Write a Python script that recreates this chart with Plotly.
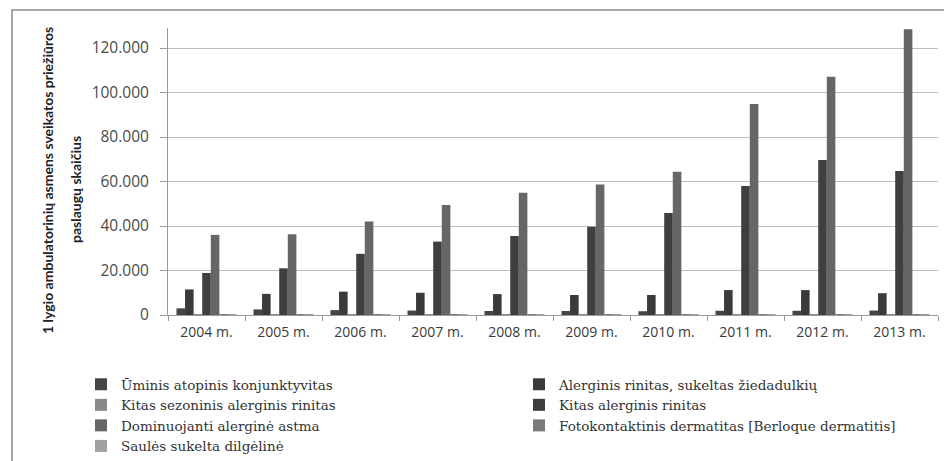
import plotly.graph_objects as go

years = ["2004 m.", "2005 m.", "2006 m.", "2007 m.", "2008 m.",
         "2009 m.", "2010 m.", "2011 m.", "2012 m.", "2013 m."]

series_names = [
    "Ūminis atopinis konjunktyvitas",
    "Alerginis rinitas, sukeltas žiedadulkių",
    "Kitas sezoninis alerginis rinitas",
    "Kitas alerginis rinitas",
    "Dominuojanti alerginė astma",
    "Fotokontaktinis dermatitas [Berloque dermatitis]",
    "Saulės sukelta dilgėlinė",
]

uminis = [3000, 2500, 2200, 2000, 1800, 1800, 1700, 1900, 1900, 2000]
alerg_ziedadulkiu = [11500, 9500, 10500, 10000, 9400, 9000, 9000, 11200, 11200, 9800]
kitas_sezoninis = [400, 400, 400, 400, 400, 400, 400, 400, 400, 400]
kitas_alerginis = [18900, 21000, 27500, 33000, 35500, 39700, 45800, 58000, 69700, 64700]
astma = [36000, 36300, 42000, 49400, 55000, 58700, 64400, 94800, 107100, 128400]
fotokontaktinis = [300, 300, 300, 300, 300, 300, 300, 300, 300, 300]
saules = [300, 300, 300, 300, 300, 300, 300, 300, 300, 300]

y_ticks = [0, 20000, 40000, 60000, 80000, 100000, 120000]
y_tick_labels = ["0", "20.000", "40.000", "60.000", "80.000", "100.000", "120.000"]

y_title_line1 = "1 lygio ambulatorinių asmens sveikatos priežiūros"
y_title_line2 = "paslaugų skaičius"

values = [uminis, alerg_ziedadulkiu, kitas_sezoninis, kitas_alerginis,
          astma, fotokontaktinis, saules]
colors = ["#454545", "#3a3a3a", "#8a8a8a", "#3f3f3f", "#666666", "#7a7a7a", "#a0a0a0"]

fig = go.Figure()
for name, vals, col in zip(series_names, values, colors):
    fig.add_trace(go.Bar(x=years, y=vals, name=name, marker_color=col,
                         marker_line_width=0))

# page body has an 8px margin: figure is placed at (8, 8) on screen
OFF = 8
W, H = 952 - OFF, 461 - OFF
# plot area in screen pixels: x 168..938, y 28..315
ml, mr = 168 - OFF, 952 - 938
mt, mb = 28 - OFF, 461 - 315
pw, ph = W - ml - mr, H - mt - mb

def px_x(s):
    return (s - OFF - ml) / pw

def px_y(s):
    return (H - mb - (s - OFF)) / ph

fig.update_layout(
    width=W, height=H,
    margin=dict(l=ml, r=mr, t=mt, b=mb, pad=0, autoexpand=False),
    paper_bgcolor="white", plot_bgcolor="white",
    barmode="group", bargap=0.22, bargroupgap=0,
    font=dict(family="Open Sans", size=14, color="#404040"),
    xaxis=dict(
        showline=True, linecolor="#9a9a9a", linewidth=1,
        ticks="outside", tickson="boundaries", ticklen=5, tickcolor="#9a9a9a",
        ticklabelstandoff=4,
        tickfont=dict(family="Open Sans", size=14, color="#3a3a3a"),
        showgrid=False, automargin=False,
    ),
    yaxis=dict(
        range=[0, 129000],
        tickvals=y_ticks, ticktext=y_tick_labels,
        showline=True, linecolor="#9a9a9a", linewidth=1,
        ticks="outside", ticklen=7, tickcolor="#9a9a9a",
        ticklabelstandoff=8,
        showgrid=True, gridcolor="#bcbcbc", gridwidth=1,
        tickfont=dict(family="Open Sans", size=15.5, color="#4a4a4a"),
        zeroline=False, automargin=False,
    ),
    legend=dict(
        orientation="h",
        x=px_x(81), xanchor="left",
        y=px_y(369), yanchor="top",
        entrywidth=393, entrywidthmode="pixels",
        font=dict(family="DejaVu Serif", size=13.5, color="#333333"),
        bgcolor="rgba(0,0,0,0)",
        tracegroupgap=0,
    ),
    showlegend=True,
)

fig.add_annotation(
    text=y_title_line1,
    xref="paper", yref="paper",
    x=px_x(47), y=px_y(181),
    xanchor="center", yanchor="middle",
    textangle=-90, showarrow=False,
    font=dict(family="Lato", size=14, color="#222222", weight="bold"),
)
fig.add_annotation(
    text=y_title_line2,
    xref="paper", yref="paper",
    x=px_x(75), y=px_y(190),
    xanchor="center", yanchor="middle",
    textangle=-90, showarrow=False,
    font=dict(family="Lato", size=14, color="#222222", weight="bold"),
)

fig.add_shape(
    type="rect", xref="paper", yref="paper",
    x0=px_x(12), x1=px_x(950), y0=px_y(475), y1=px_y(10),
    line=dict(color="#8a8a8a", width=1.5), fillcolor="rgba(0,0,0,0)",
    layer="below",
)

fig.write_html("out.html")
